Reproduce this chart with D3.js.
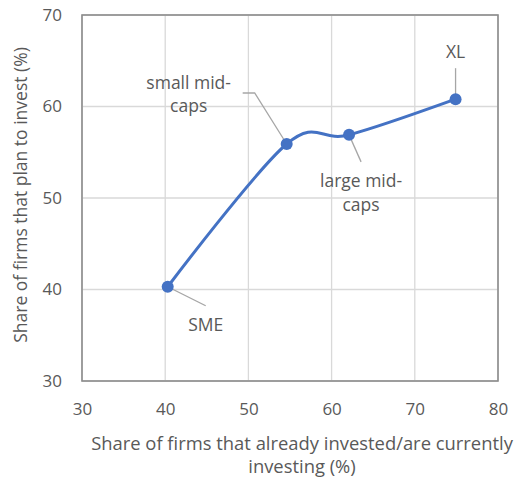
<!DOCTYPE html>
<html>
<head>
<meta charset="utf-8">
<script src="https://cdn.jsdelivr.net/npm/d3@7"></script>
<style>
  body { margin: 0; background: #fff; }
  text { font-family: "Open Sans", sans-serif; fill: #595959; }
</style>
</head>
<body>
<div id="chart"></div>
<script>
// firm size groups
const groups = ["SME", "small mid-caps", "large mid-caps", "XL"];
const investedShare = [40.3, 54.6, 62.1, 74.9];   // x, %
const planShare = [40.3, 55.9, 56.9, 60.8];       // y, %
const xTicks = [30, 40, 50, 60, 70, 80];
const yTicks = [30, 40, 50, 60, 70];

const W = 521, H = 484;
const margin = { top: 15, right: 23, bottom: 103, left: 82 };

const svg = d3.select("#chart").append("svg")
    .attr("width", W)
    .attr("height", H);

const x = d3.scaleLinear().domain([30, 80]).range([margin.left, W - margin.right]);
const y = d3.scaleLinear().domain([30, 70]).range([H - margin.bottom, margin.top]);

// gridlines
svg.append("g")
    .selectAll("line.vg")
    .data(xTicks)
    .join("line")
    .attr("x1", d => x(d)).attr("x2", d => x(d))
    .attr("y1", y(30)).attr("y2", y(70))
    .attr("stroke", "#d9d9d9").attr("stroke-width", 1.3);

svg.append("g")
    .selectAll("line.hg")
    .data(yTicks)
    .join("line")
    .attr("y1", d => y(d)).attr("y2", d => y(d))
    .attr("x1", x(30)).attr("x2", x(80))
    .attr("stroke", "#d9d9d9").attr("stroke-width", 1.3);

// plot frame
svg.append("rect")
    .attr("x", x(30)).attr("y", y(70))
    .attr("width", x(80) - x(30)).attr("height", y(30) - y(70))
    .attr("fill", "none").attr("stroke", "#8c8c8c").attr("stroke-width", 1.6);

// axes (labels only)
const xAxis = svg.append("g")
    .attr("transform", `translate(0,${y(30)})`)
    .call(d3.axisBottom(x).tickValues(xTicks).tickSize(0).tickPadding(22));
xAxis.select(".domain").remove();
xAxis.selectAll("text").style("font-size", "17px").attr("fill", "#595959");

const yAxis = svg.append("g")
    .attr("transform", `translate(${x(30)},0)`)
    .call(d3.axisLeft(y).tickValues(yTicks).tickSize(0).tickPadding(20));
yAxis.select(".domain").remove();
yAxis.selectAll("text").style("font-size", "17px").attr("fill", "#595959");

// axis titles
svg.append("text")
    .attr("text-anchor", "middle")
    .attr("x", 302).attr("y", 450)
    .style("font-size", "18.4px")
    .text("Share of firms that already invested/are currently");
svg.append("text")
    .attr("text-anchor", "middle")
    .attr("x", 302).attr("y", 473)
    .style("font-size", "18.4px")
    .text("investing (%)");

svg.append("text")
    .attr("text-anchor", "middle")
    .attr("transform", "rotate(-90)")
    .attr("x", -195).attr("y", 27)
    .style("font-size", "17.5px")
    .text("Share of firms that plan to invest (%)");

// data
const pts = groups.map((g, i) => ({ name: g, x: investedShare[i], y: planShare[i] }));

// label anchor offsets and leader lines in px, relative to the point
const labelPos = {
    "SME": { dx: 38, dy: 44, gap: 24, lead: [[0, 0], [38, 19]] },
    "small mid-caps": { dx: -98, dy: -55, gap: 23, lead: [[0, 0], [-32, -51], [-44, -51]] },
    "large mid-caps": { dx: 12, dy: 52, gap: 24, lead: [[0, 0], [12, 27]] },
    "XL": { dx: 0, dy: -41, gap: 24, lead: [[0, 0], [0, -31]] }
};

svg.append("g")
    .selectAll("path.lead")
    .data(pts)
    .join("path")
    .attr("d", d => d3.line()(labelPos[d.name].lead.map(p => [x(d.x) + p[0], y(d.y) + p[1]])))
    .attr("fill", "none")
    .attr("stroke", "#a6a6a6")
    .attr("stroke-width", 1.3);

// smoothed line
svg.append("path")
    .datum(pts)
    .attr("d", d3.line().x(d => x(d.x)).y(d => y(d.y)).curve(d3.curveCardinal.tension(0)))
    .attr("fill", "none")
    .attr("stroke", "#4472c4")
    .attr("stroke-width", 3);

svg.append("g")
    .selectAll("circle")
    .data(pts)
    .join("circle")
    .attr("cx", d => x(d.x))
    .attr("cy", d => y(d.y))
    .attr("r", 6)
    .attr("fill", "#4472c4");

// point labels
const lbl = svg.append("g")
    .selectAll("text")
    .data(pts)
    .join("text")
    .attr("text-anchor", "middle")
    .style("font-size", "17.5px")
    .attr("x", d => x(d.x) + labelPos[d.name].dx)
    .attr("y", d => y(d.y) + labelPos[d.name].dy);

lbl.each(function (d) {
    const parts = d.name.includes("mid-caps") ? [d.name.replace("caps", ""), "caps"] : [d.name];
    d3.select(this).selectAll("tspan")
        .data(parts)
        .join("tspan")
        .attr("x", x(d.x) + labelPos[d.name].dx)
        .attr("dy", (p, i) => i === 0 ? 0 : labelPos[d.name].gap)
        .text(p => p);
});
</script>
</body>
</html>
